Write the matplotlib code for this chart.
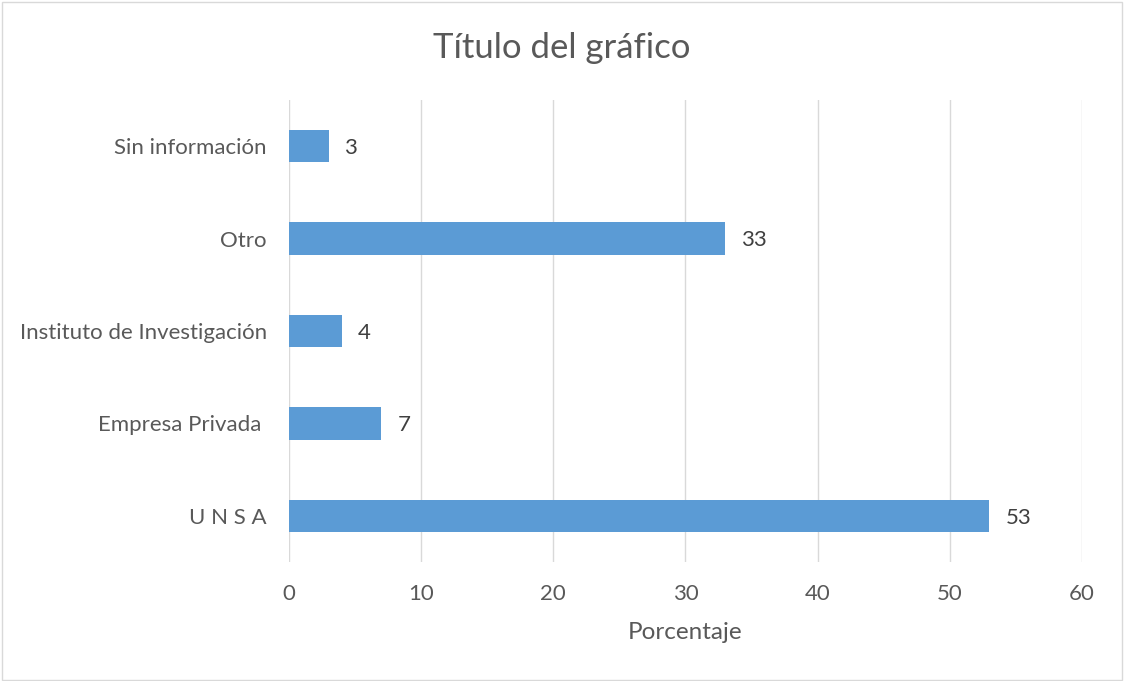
import matplotlib.pyplot as plt
from matplotlib.patches import Rectangle

categories = ['U N S A', 'Empresa Privada ', 'Instituto de Investigación', 'Otro', 'Sin información']
values = [53, 7, 4, 33, 3]
xticks = [0, 10, 20, 30, 40, 50, 60]

plt.rcParams['font.family'] = ['Lato', 'DejaVu Sans']
txt = '#595959'

fig = plt.figure(figsize=(11.24, 6.81), dpi=100)
fig.patches.append(Rectangle((0.002, 0.002), 0.996, 0.995, transform=fig.transFigure,
                             fill=False, edgecolor='#D9D9D9', linewidth=1))
ax = fig.add_axes([0.2571, 0.1747, 0.7055, 0.6785])

ypos = range(len(categories))
ax.barh(ypos, values, height=0.35, color='#5B9BD5', zorder=3)
for y, v in zip(ypos, values):
    ax.text(v + 1.2, y - 0.02, str(v), va='center', ha='left', fontsize=16, color='#404040')

ax.set_xlim(0, 60)
ax.set_ylim(-0.5, len(categories) - 0.5)
ax.set_xticks(xticks)
ax.set_yticks(list(ypos))
ax.set_yticklabels(categories)
ax.grid(axis='x', color='#D9D9D9', linewidth=1, zorder=0)
for s in ax.spines.values():
    s.set_visible(False)
ax.tick_params(length=0, labelsize=16, labelcolor=txt)
ax.tick_params(axis='x', pad=16)
ax.tick_params(axis='y', pad=16)
ax.set_xlabel('Porcentaje', fontsize=17.5, color=txt, labelpad=13)
fig.text(0.5, 0.93, 'Título del gráfico', ha='center', va='center', fontsize=25, color=txt)

fig.savefig('out.png', dpi=100)
